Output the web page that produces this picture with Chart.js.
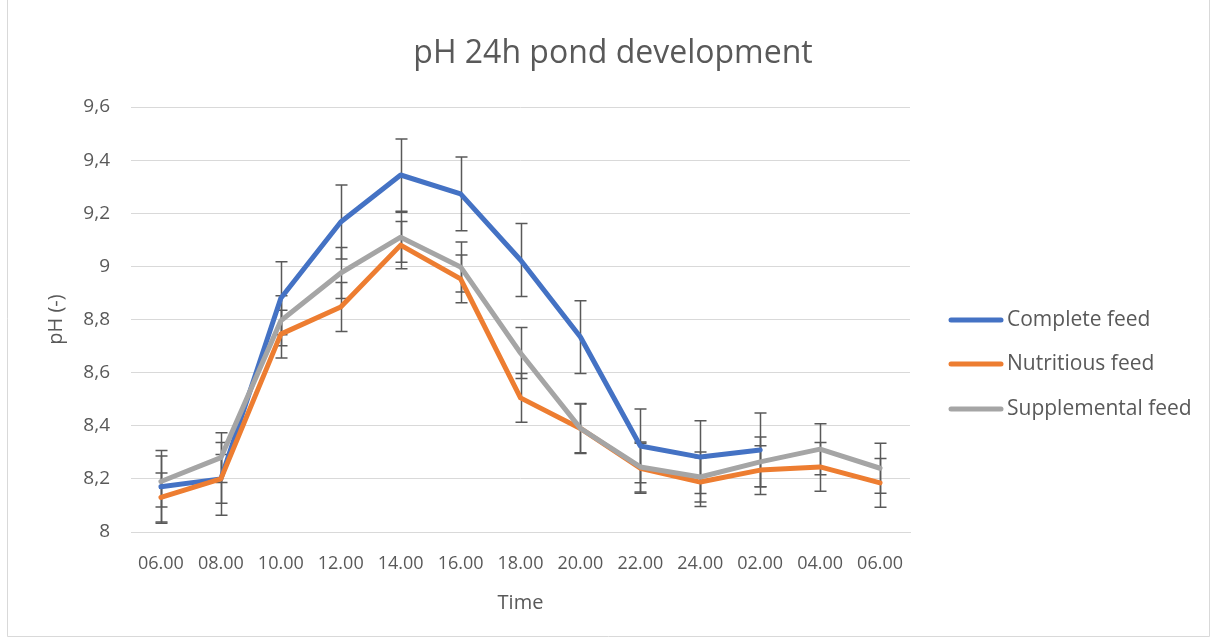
<!DOCTYPE html>
<html>
<head>
<meta charset="utf-8">
<script src="https://cdn.jsdelivr.net/npm/chart.js@4/dist/chart.umd.min.js"></script>
<style>
  html, body { margin: 0; padding: 0; background: #ffffff; }
  #wrap { position: relative; width: 1217px; height: 644px; }
</style>
</head>
<body>
<div id="wrap"><canvas id="c"></canvas></div>
<script>
// ---- data ----
const timeLabels = ["06.00","08.00","10.00","12.00","14.00","16.00","18.00","20.00","22.00","24.00","02.00","04.00","06.00"];
const seriesNames = ["Complete feed", "Nutritious feed", "Supplemental feed"];
const completeFeed = [8.17, 8.20, 8.88, 9.167, 9.344, 9.273, 9.024, 8.734, 8.324, 8.282, 8.309, null, null];
const nutritiousFeed = [8.13, 8.20, 8.745, 8.847, 9.08, 8.953, 8.505, 8.39, 8.24, 8.188, 8.233, 8.245, 8.185];
const supplementalFeed = [8.19, 8.28, 8.795, 8.975, 9.11, 8.998, 8.674, 8.39, 8.245, 8.207, 8.264, 8.312, 8.24];
const completeErr = [0.137, 0.137, 0.137, 0.139, 0.136, 0.139, 0.137, 0.137, 0.139, 0.137, 0.139, null, null];
const nutritiousErr = [0.092, 0.092, 0.09, 0.092, 0.089, 0.09, 0.092, 0.094, 0.094, 0.092, 0.092, 0.092, 0.092];
const supplementalErr = [0.096, 0.094, 0.094, 0.096, 0.094, 0.094, 0.096, 0.092, 0.094, 0.094, 0.094, 0.096, 0.094];
const yTicks = [8, 8.2, 8.4, 8.6, 8.8, 9, 9.2, 9.4, 9.6];
const chartTitle = "pH 24h pond development";
const xTitle = "Time";
const yTitle = "pH (-)";

const colors = ["#4472C4", "#ED7D31", "#A5A5A5"];
const errs = [completeErr, nutritiousErr, supplementalErr];
const FONT = "'Open Sans', sans-serif";
const TXT = "#595959";

const errorBars = {
  id: 'errorBars',
  beforeDatasetsDraw(chart) {
    const ctx = chart.ctx, ys = chart.scales.y;
    ctx.save();
    ctx.strokeStyle = "#595959";
    ctx.lineWidth = 1.5;
    chart.data.datasets.forEach((ds, di) => {
      const meta = chart.getDatasetMeta(di);
      const e = ds.errors;
      meta.data.forEach((pt, i) => {
        const v = ds.data[i];
        if (v == null || e[i] == null) return;
        const x = Math.round(pt.x) + 0.5;
        const t = ys.getPixelForValue(v + e[i]);
        const b = ys.getPixelForValue(v - e[i]);
        ctx.beginPath();
        ctx.moveTo(x, t); ctx.lineTo(x, b);
        ctx.moveTo(x - 6, t); ctx.lineTo(x + 6, t);
        ctx.moveTo(x - 6, b); ctx.lineTo(x + 6, b);
        ctx.stroke();
      });
    });
    ctx.restore();
  }
};

const decor = {
  id: 'decor',
  afterDraw(chart) {
    const ctx = chart.ctx;
    ctx.save();
    // outer frame
    ctx.strokeStyle = "#d9d9d9";
    ctx.lineWidth = 1;
    ctx.beginPath();
    ctx.moveTo(7.5, 0); ctx.lineTo(7.5, 636.5); ctx.lineTo(1209.5, 636.5); ctx.lineTo(1209.5, 0);
    ctx.stroke();
    // title
    ctx.fillStyle = TXT;
    ctx.font = "32px " + FONT;
    ctx.textAlign = "center";
    ctx.textBaseline = "middle";
    ctx.fillText(chartTitle, 613, 54);
    // legend
    ctx.font = "21px " + FONT;
    ctx.textAlign = "left";
    const ly = [320, 364, 409];
    chart.data.datasets.forEach((ds, i) => {
      ctx.strokeStyle = ds.borderColor;
      ctx.lineWidth = 5;
      ctx.lineCap = "round";
      ctx.beginPath();
      ctx.moveTo(951, ly[i]); ctx.lineTo(1001, ly[i]);
      ctx.stroke();
      ctx.fillStyle = TXT;
      ctx.fillText(ds.label, 1007, ly[i]);
    });
    ctx.restore();
  }
};

const datasets = [completeFeed, nutritiousFeed, supplementalFeed].map((d, i) => ({
  label: seriesNames[i],
  data: d,
  errors: errs[i],
  borderColor: colors[i],
  backgroundColor: colors[i],
  borderWidth: 5,
  pointRadius: 0,
  pointHoverRadius: 0,
  tension: 0,
  borderJoinStyle: 'round',
  borderCapStyle: 'round',
  spanGaps: false,
  order: 3 - i
}));

new Chart(document.getElementById('c'), {
  type: 'line',
  data: { labels: timeLabels, datasets },
  plugins: [errorBars, decor],
  options: {
    responsive: true,
    maintainAspectRatio: false,
    animation: false,
    devicePixelRatio: 1,
    layout: { padding: { left: 0, right: 307, top: 107, bottom: 0 } },
    plugins: { legend: { display: false }, title: { display: false }, tooltip: { enabled: false } },
    scales: {
      x: {
        offset: true,
        afterFit: s => { s.height = 112; },
        grid: { display: false, drawTicks: false },
        border: { display: true, color: "#d9d9d9", width: 1 },
        ticks: { color: TXT, font: { family: FONT, size: 18 }, padding: 21, maxRotation: 0, autoSkip: false },
        title: { display: true, text: xTitle, color: TXT, font: { family: FONT, size: 20 }, padding: { top: 0, bottom: 29 } }
      },
      y: {
        min: 8, max: 9.6,
        afterFit: s => { s.width = 131; },
        afterBuildTicks: s => { s.ticks = yTicks.map(v => ({ value: v })); },
        grid: { color: "#d9d9d9", lineWidth: 1, drawTicks: false },
        border: { display: false },
        ticks: {
          color: TXT, font: { family: FONT, size: 19 }, padding: 21,
          callback: v => String(Math.round(v * 10) / 10).replace('.', ',')
        },
        title: { display: true, text: yTitle, color: TXT, font: { family: FONT, size: 20 }, padding: { top: 44, bottom: 0 } }
      }
    }
  }
});
</script>
</body>
</html>
